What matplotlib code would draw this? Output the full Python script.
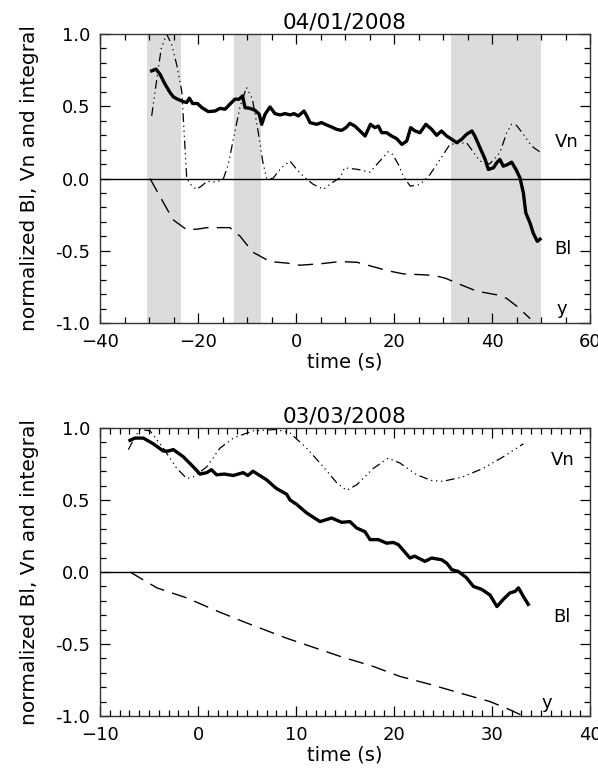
import matplotlib
matplotlib.use("Agg")
import matplotlib.pyplot as plt
from matplotlib.ticker import MultipleLocator, FormatStrFormatter

# ---------------- data: panel 1 (04/01/2008) ----------------
t1_bl = [-29.45, -28.57, -27.76, -26.73, -25.71, -25.03, -24.2, -23.0, -22.3, -21.77, -21.1, -20.1,
         -19.2, -17.9, -16.5, -15.5, -14.5, -13.5, -12.45, -11.6, -10.9, -10.4, -9.4, -8.37, -7.5,
         -7.0, -6.33, -5.3, -4.3, -3.27, -2.24, -1.2, -0.4, 0.48, 1.63, 2.2, 2.86, 4.2, 5.2, 6.27,
         7.3, 8.3, 9.3, 10.2, 11.0, 12.0, 13.06, 14.1, 15.2, 16.1, 16.8, 17.5, 18.5, 19.5, 20.55,
         21.6, 22.6, 23.4, 24.3, 25.3, 26.5, 27.7, 28.7, 29.7, 30.75, 31.8, 32.8, 33.8, 34.8, 35.9,
         36.5, 37.55, 38.6, 39.25, 40.3, 40.96, 41.6, 42.3, 43.2, 44.0, 44.9, 45.7, 46.4, 46.9,
         47.76, 48.4, 49.25, 49.8]
bl1 = [0.745, 0.757, 0.722, 0.653, 0.595, 0.565, 0.549, 0.532, 0.526, 0.556, 0.519, 0.519,
       0.49, 0.463, 0.467, 0.486, 0.479, 0.514, 0.549, 0.549, 0.572, 0.49, 0.486, 0.472, 0.444,
       0.375, 0.444, 0.495, 0.449, 0.44, 0.449, 0.44, 0.449, 0.433, 0.467, 0.433, 0.387, 0.375,
       0.387, 0.37, 0.356, 0.34, 0.333, 0.352, 0.382, 0.363, 0.329, 0.294, 0.375, 0.352, 0.363,
       0.317, 0.317, 0.294, 0.276, 0.236, 0.259, 0.352, 0.329, 0.317, 0.375, 0.34, 0.299, 0.329,
       0.294, 0.271, 0.248, 0.271, 0.306, 0.329, 0.294, 0.213, 0.132, 0.0625, 0.074, 0.109,
       0.132, 0.085, 0.097, 0.113, 0.0625, 0.005, -0.1, -0.238, -0.308, -0.377, -0.435, -0.42]

t1_vn = [-29.45, -28.4, -27.5, -26.4, -25.3, -24.3, -23.3, -22.3, -21.3, -20.3, -19.2, -18.2,
         -16.2, -14.8, -13.8, -12.8, -11.4, -10.1, -8.9, -7.7, -6.8, -6.0, -4.7, -3.6, -2.6, -1.2,
         0.2, 1.5, 3.5, 5.6, 7.3, 9.0, 9.9, 12.7, 15.1, 16.8, 18.8, 19.7, 20.9, 21.9, 23.3, 25.3,
         27.35, 29.4, 31.4, 34.8, 37.55, 39.5, 41.6, 43.0, 44.0, 45.0, 46.4, 48.1, 49.8]
vn1 = [0.433, 0.69, 0.90, 1.00, 0.92, 0.78, 0.60, 0.0, -0.05, -0.075, -0.05, -0.02,
       -0.025, 0.0, 0.10, 0.27, 0.50, 0.63, 0.55, 0.32, 0.12, 0.0, 0.0, 0.05, 0.085, 0.12,
       0.06, 0.015, -0.04, -0.075, -0.03, 0.005, 0.074, 0.0625, 0.044, 0.109, 0.185, 0.167,
       0.097, 0.016, -0.053, -0.042, 0.028, 0.132, 0.236, 0.248, 0.12, 0.10, 0.178, 0.317,
       0.375, 0.368, 0.306, 0.224, 0.183]

t1_y = [-29.8, -27.5, -25.1, -22.3, -20.0, -18.2, -13.5, -11.4, -8.8, -5.3, -1.9, 0.8, 5.0, 9.0,
        12.5, 15.7, 19.0, 21.9, 25.0, 28.0, 30.5, 32.9, 36.9, 41.0, 43.0, 45.1, 47.8]
y1 = [0.0, -0.14, -0.285, -0.355, -0.35, -0.34, -0.34, -0.40, -0.51, -0.575, -0.585, -0.60, -0.59,
      -0.575, -0.58, -0.61, -0.64, -0.66, -0.665, -0.67, -0.69, -0.725, -0.78, -0.805, -0.83,
      -0.885, -0.97]

bands1 = [(-30.5, -23.5), (-12.7, -7.1), (31.6, 50.0)]

# ---------------- data: panel 2 (03/03/2008) ----------------
t2_bl = [-6.94, -6.43, -5.58, -4.56, -3.54, -3.03, -2.52, -1.5, -0.48, 0.2, 0.89, 1.37, 1.9, 2.7,
         3.6, 4.6, 5.1, 5.6, 7.0, 8.0, 9.05, 9.39, 10.06, 11.09, 12.45, 13.64, 14.66, 15.5, 16.2,
         17.04, 17.55, 18.4, 19.26, 19.93, 20.44, 21.63, 22.1, 23.16, 23.84, 24.86, 25.4, 25.9,
         26.56, 27.4, 28.1, 28.93, 29.8, 30.5, 31.15, 31.84, 32.35, 32.7, 33.2, 33.7]
bl2 = [0.914, 0.93, 0.93, 0.89, 0.84, 0.84, 0.85, 0.80, 0.73, 0.68, 0.69, 0.71, 0.675, 0.68,
       0.67, 0.69, 0.67, 0.70, 0.64, 0.58, 0.54, 0.50, 0.47, 0.41, 0.35, 0.375, 0.345, 0.35, 0.305,
       0.28, 0.225, 0.225, 0.20, 0.205, 0.19, 0.097, 0.11, 0.074, 0.097, 0.085, 0.06, 0.016,
       0.004, -0.04, -0.10, -0.12, -0.16, -0.24, -0.19, -0.145, -0.135, -0.11, -0.17, -0.225]

t2_vn = [-7.1, -6.5, -5.9, -4.9, -3.54, -2.17, -1.16, -0.48, 0.89, 2.24, 3.6, 5.6, 8.0, 9.39,
         11.09, 12.8, 14.15, 15.17, 16.2, 17.9, 19.4, 20.6, 22.3, 23.8, 25.0, 27.0, 29.1, 31.15, 33.2]
vn2 = [0.85, 0.93, 0.99, 0.98, 0.86, 0.72, 0.65, 0.66, 0.73, 0.86, 0.93, 0.98, 0.99, 0.965,
       0.86, 0.73, 0.62, 0.567, 0.606, 0.72, 0.79, 0.757, 0.676, 0.636, 0.63, 0.66, 0.72, 0.80, 0.89]

t2_y = [-6.94, -4.2, -1.15, 1.9, 4.97, 9.05, 14.5, 17.9, 20.6, 23.67, 26.7, 29.8, 31.8, 33.2]
y2 = [0.0, -0.11, -0.18, -0.27, -0.354, -0.46, -0.586, -0.656, -0.725, -0.78, -0.84, -0.90,
      -0.956, -1.0]

titles = ["04/01/2008", "03/03/2008"]
xlims = [(-40, 60), (-10, 40)]
xmajor = [20, 10]
xminor = [5, 1]
label_pos = [
    [(55.3, 0.25, "Vn"), (54.5, -0.49, "Bl"), (54.3, -0.90, "y")],
    [(37.2, 0.78, "Vn"), (37.1, -0.31, "Bl"), (35.6, -0.91, "y")],
]

plt.rcParams['font.family'] = ['DejaVu Sans']

fig = plt.figure(figsize=(5.98, 7.76), dpi=100)
ax1 = fig.add_axes([100/598, 1-323/776, 490/598, 289/776])
ax2 = fig.add_axes([100/598, 1-716/776, 490/598, 288/776])

vn_style = (0, (7, 3, 1, 3, 1, 3, 1, 3))
y_style = (0, (11, 6))

panels = [
    (ax1, t1_bl, bl1, t1_vn, vn1, t1_y, y1, bands1),
    (ax2, t2_bl, bl2, t2_vn, vn2, t2_y, y2, []),
]

for i, (ax, tb, b, tv, v, ty, yy, bands) in enumerate(panels):
    for (a, c) in bands:
        ax.axvspan(a, c, color='#dcdcdc', lw=0, zorder=0)
    ax.axhline(0, color='black', lw=1.0, zorder=1)
    ax.plot(tv, v, color='black', lw=0.9, linestyle=vn_style, zorder=2)
    ax.plot(ty, yy, color='black', lw=1.0, linestyle=y_style, zorder=2)
    ax.plot(tb, b, color='black', lw=2.4, zorder=3)
    ax.set_xlim(*xlims[i])
    ax.set_ylim(-1.0, 1.0)
    ax.xaxis.set_major_locator(MultipleLocator(xmajor[i]))
    ax.xaxis.set_minor_locator(MultipleLocator(xminor[i]))
    ax.yaxis.set_major_locator(MultipleLocator(0.5))
    ax.yaxis.set_minor_locator(MultipleLocator(0.1))
    ax.yaxis.set_major_formatter(FormatStrFormatter('%.1f'))
    ax.tick_params(which='both', direction='in', top=True, right=True, width=0.9,
                   labelsize=13, pad=7)
    ax.tick_params(which='major', length=7)
    ax.tick_params(which='minor', length=4)
    for s in ax.spines.values():
        s.set_linewidth(1.0)
        s.set_color('#333333')
    ax.set_title(titles[i], fontsize=15.5, pad=4)
    ax.set_xlabel("time (s)", fontsize=14, labelpad=1)
    ax.set_ylabel("normalized Bl, Vn and integral", fontsize=14.5, labelpad=12)
    for (x, yv, s) in label_pos[i]:
        ax.text(x, yv, s, fontsize=13, ha='center', va='center')

fig.savefig("out.png", dpi=100)
